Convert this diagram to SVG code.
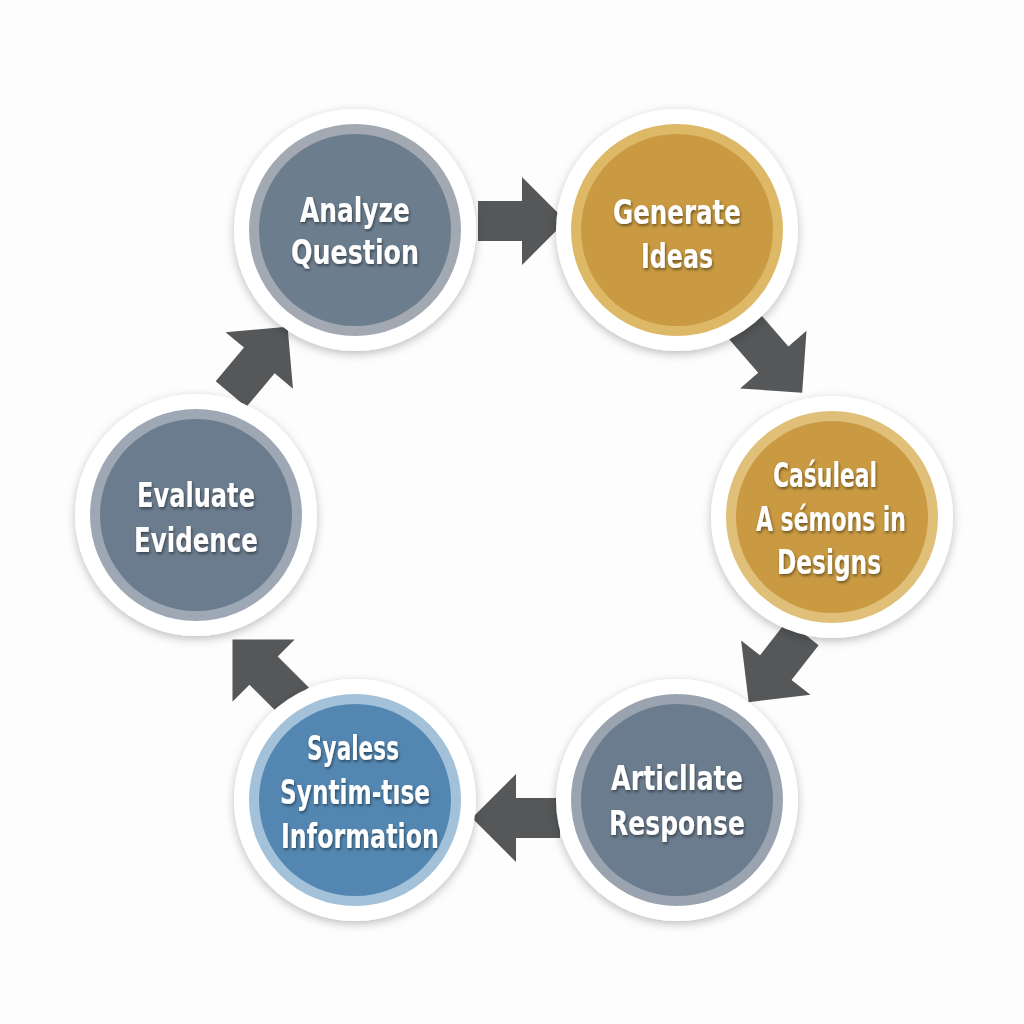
<svg xmlns="http://www.w3.org/2000/svg" width="1024" height="1024" viewBox="0 0 1024 1024">
<defs>
<filter id="sh" x="-20%" y="-20%" width="140%" height="140%"><feDropShadow dx="0" dy="3" stdDeviation="5" flood-color="#000" flood-opacity="0.25"/></filter>
<filter id="ts"><feDropShadow dx="1" dy="2" stdDeviation="1.5" flood-color="#000" flood-opacity="0.45"/></filter>
<path id="arr" d="M-42,-20 H2 V-44 L46,0 L2,44 V20 H-42 Z" fill="#555759"/>
</defs>
<style>
.w{fill:#fff;filter:url(#sh)}
.t{font-family:"DejaVu Sans Condensed","DejaVu Sans",sans-serif;font-weight:bold;font-size:34px;fill:#fff;text-anchor:middle;filter:url(#ts)}
</style>
<rect width="1024" height="1024" fill="#fdfdfd"/>
<g id="connectors">
<use href="#arr" transform="translate(520,221)"/>
<use href="#arr" transform="translate(772,358) rotate(49)"/>
<use href="#arr" transform="translate(777,666) rotate(128)"/>
<use href="#arr" transform="translate(518,818) rotate(180)"/>
<use href="#arr" transform="translate(265,672) rotate(-135)"/>
<use href="#arr" transform="translate(258,362) rotate(-50)"/>
</g>
<g id="n1"><circle class="w" cx="355" cy="230" r="121"/><circle cx="355" cy="230" r="106" fill="#a3a9b2"/><circle cx="355" cy="230" r="96" fill="#6c7d8e"/>
<text class="t" x="355" y="222" textLength="110" lengthAdjust="spacingAndGlyphs">Analyze</text><text class="t" x="355" y="264" textLength="128" lengthAdjust="spacingAndGlyphs">Question</text></g>
<g id="n2"><circle class="w" cx="677" cy="230" r="121"/><circle cx="677" cy="230" r="106" fill="#ddb866"/><circle cx="677" cy="230" r="96" fill="#c99a42"/>
<text class="t" x="677" y="224" textLength="128" lengthAdjust="spacingAndGlyphs">Generate</text><text class="t" x="677" y="268" textLength="72" lengthAdjust="spacingAndGlyphs">Ideas</text></g>
<g id="n3"><circle class="w" cx="832" cy="517" r="121"/><circle cx="832" cy="517" r="106" fill="#e0c079"/><circle cx="832" cy="517" r="96" fill="#c99a42"/>
<text class="t" x="825" y="487" textLength="104" lengthAdjust="spacingAndGlyphs">Caśuleal</text><text class="t" x="831" y="531" textLength="150" lengthAdjust="spacingAndGlyphs">A sémons in</text><text class="t" x="829" y="574" textLength="104" lengthAdjust="spacingAndGlyphs">Designs</text></g>
<g id="n4"><circle class="w" cx="677" cy="800" r="121"/><circle cx="677" cy="800" r="106" fill="#9aa4b0"/><circle cx="677" cy="800" r="96" fill="#6b7c8e"/>
<text class="t" x="677" y="790" textLength="132" lengthAdjust="spacingAndGlyphs">Articllate</text><text class="t" x="677" y="835" textLength="136" lengthAdjust="spacingAndGlyphs">Response</text></g>
<g id="n5"><circle class="w" cx="355" cy="800" r="121"/><circle cx="355" cy="800" r="106" fill="#a3c2da"/><circle cx="355" cy="800" r="96" fill="#5387b2"/>
<text class="t" x="353" y="760" textLength="92" lengthAdjust="spacingAndGlyphs">Syaless</text><text class="t" x="355" y="804" textLength="150" lengthAdjust="spacingAndGlyphs">Syntim-tıse</text><text class="t" x="360" y="848" textLength="158" lengthAdjust="spacingAndGlyphs">Information</text></g>
<g id="n6"><circle class="w" cx="196" cy="515" r="121"/><circle cx="196" cy="515" r="106" fill="#9ea8b4"/><circle cx="196" cy="515" r="96" fill="#6b7c8e"/>
<text class="t" x="196" y="507" textLength="118" lengthAdjust="spacingAndGlyphs">Evaluate</text><text class="t" x="196" y="552" textLength="124" lengthAdjust="spacingAndGlyphs">Evidence</text></g>
</svg>
